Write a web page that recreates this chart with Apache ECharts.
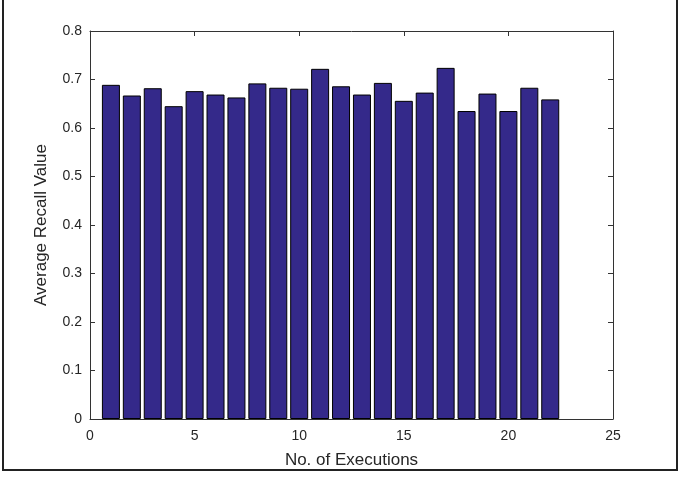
<!DOCTYPE html>
<html>
<head>
<meta charset="utf-8">
<script src="https://cdn.jsdelivr.net/npm/echarts@6/dist/echarts.min.js"></script>
<style>html,body{margin:0;padding:0;background:#fff}#c{width:682px;height:480px}</style>
</head>
<body>
<div id="c"></div>
<script>
var executions = [1,2,3,4,5,6,7,8,9,10,11,12,13,14,15,16,17,18,19,20,21,22];
var recall = [0.689,0.667,0.682,0.645,0.676,0.669,0.663,0.692,0.683,0.681,0.722,0.686,0.669,0.693,0.656,0.673,0.724,0.635,0.671,0.635,0.683,0.659];
var xTicks = [0,5,10,15,20,25];
var yTicks = [0,0.1,0.2,0.3,0.4,0.5,0.6,0.7,0.8];

var chart = echarts.init(document.getElementById('c'), null, {renderer:'canvas'});
var axisColor = '#333';
var textColor = '#262626';
var font = 'Liberation Sans, Arial, sans-serif';
var pairs = executions.map(function(x,i){return [x, recall[i]];});
function baseX(show){
  return {
    type:'value', min:xTicks[0], max:xTicks[xTicks.length-1], interval:5,
    axisLine:{show:true, onZero:false, lineStyle:{color:axisColor, width:1}},
    axisTick:{show:true, inside:true, length:5, lineStyle:{color:axisColor}},
    axisLabel:{show:show, color:textColor, fontSize:14, fontFamily:font, margin:10},
    splitLine:{show:false}
  };
}
function baseY(show){
  return {
    type:'value', min:yTicks[0], max:yTicks[yTicks.length-1], interval:0.1,
    axisLine:{show:true, onZero:false, lineStyle:{color:axisColor, width:1}},
    axisTick:{show:true, inside:true, length:5, lineStyle:{color:axisColor}},
    axisLabel:{show:show, color:textColor, fontSize:14, fontFamily:font, margin:8,
      formatter:function(v){return String(Math.round(v*10)/10);}},
    splitLine:{show:false}
  };
}
var xb = baseX(true);
xb.position='bottom';
xb.name='No. of Executions';
xb.nameLocation='middle';
xb.nameGap=33;
xb.nameTextStyle={color:textColor, fontSize:17, fontFamily:font};
var xt = baseX(false); xt.position='top';
var yl = baseY(true);
yl.position='left';
yl.name='Average Recall Value';
yl.nameLocation='middle';
yl.nameGap=40;
yl.nameTextStyle={color:textColor, fontSize:17, fontFamily:font};
var yr = baseY(false); yr.position='right';

chart.setOption({
  animation:false,
  backgroundColor:'#fff',
  grid:{left:90, right:69, top:31, bottom:61},
  xAxis:[xb, xt],
  yAxis:[yl, yr],
  graphic:[{type:'rect', shape:{x:3, y:-5, width:674, height:475}, style:{fill:'none', stroke:'#222', lineWidth:2}}],
  series:[{
    type:'bar', xAxisIndex:0, yAxisIndex:0, data:pairs, barWidth:18,
    itemStyle:{color:'#34298a', borderColor:'#000', borderWidth:1}
  }]
});
</script>
</body>
</html>
